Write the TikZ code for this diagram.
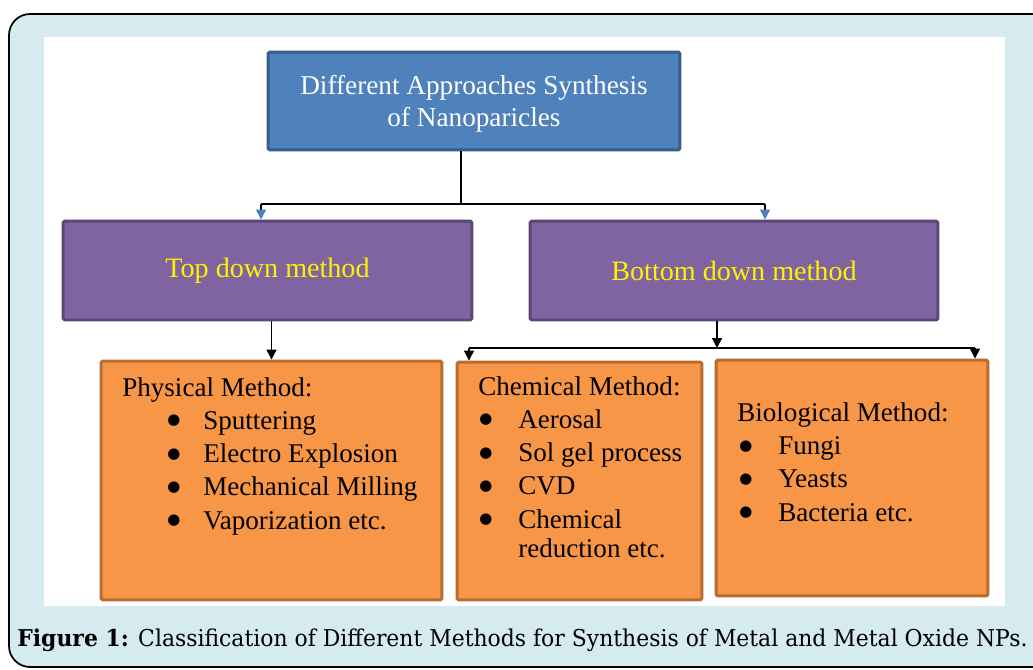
\documentclass[tikz,border=0pt]{standalone}
\usepackage{fontspec}
\setmainfont{Liberation Serif}
\newfontfamily\capfont[FakeStretch=0.945]{DejaVu Serif}
\newfontfamily\dotfont{DejaVu Sans}
\usetikzlibrary{arrows.meta, positioning}

\definecolor{panelblue}{HTML}{D6EBF0}
\definecolor{headfill}{HTML}{4F81BD}
\definecolor{headline}{HTML}{385D8A}
\definecolor{methfill}{HTML}{8064A2}
\definecolor{methline}{HTML}{5C4776}
\definecolor{kindfill}{HTML}{F79646}
\definecolor{kindline}{HTML}{B66D31}

% bullet line: bullet offset, text offset, text
\newcommand{\bline}[3]{\makebox[#2][l]{\hspace*{#1}\raisebox{2.6pt}{\dotfont\fontsize{8.5}{8.5}\selectfont ●}}#3}

\begin{document}
\begin{tikzpicture}[x=0.02cm, y=-0.02cm,
    headbox/.style={draw=headline, line width=1.7pt, fill=headfill, rounded corners=1pt,
        text=white, align=center, text depth=0pt, font=\fontsize{15.5}{18.2}\selectfont},
    methbox/.style={draw=methline, line width=1.7pt, fill=methfill, rounded corners=1pt,
        text=yellow, font=\fontsize{16}{19}\selectfont},
    kindbox/.style={draw=kindline, line width=1.7pt, fill=kindfill, rounded corners=1pt},
    kindlist/.style={anchor=base west, align=left, inner sep=0pt, font=\fontsize{15.4}{18.9}\selectfont},
    blueline/.style={draw=black, line width=0.8pt, -{Triangle[width=0.2cm, length=0.2cm, color=headfill]}},
    blackline/.style={draw=black, line width=0.8pt, -{Triangle[width=0.2cm, length=0.2cm]}}]

    % frame and white panel
    \useasboundingbox (0,0) rectangle (1033,669);
    \clip (0,0) rectangle (1033,669);
    \draw[fill=panelblue, line width=1pt, rounded corners=12] (9,14) rectangle (1060,667);
    \fill[white] (44,37) rectangle (1005,606);

    % head box
    \node[headbox, minimum width=8.24cm, minimum height=1.96cm] (approach) at (474,101)
        {Different Approaches Synthesis\\of Nanoparicles};

    % method boxes
    \node[methbox, minimum width=8.18cm, minimum height=1.98cm] (topdown) at (267.5,270.5) {Top down method};
    \node[methbox, minimum width=8.16cm, minimum height=1.98cm] (bottomdown) at (734,270.5) {Bottom down method};

    % kind boxes
    \node[kindbox, minimum width=6.82cm, minimum height=4.78cm] (physical) at (271.5,480.5) {};
    \node[kindbox, minimum width=4.90cm, minimum height=4.76cm] (chemical) at (579.5,481) {};
    \node[kindbox, minimum width=5.44cm, minimum height=4.72cm] (biological) at (852,478) {};

    % lists (placed by the baseline of their last line)
    \node[kindlist] (physlist) at (122,529) {Physical Method:\\
        \bline{0.9cm}{1.62cm}{Sputtering}\\
        \bline{0.9cm}{1.62cm}{Electro Explosion}\\
        \bline{0.9cm}{1.62cm}{Mechanical Milling}\\
        \bline{0.9cm}{1.62cm}{Vaporization etc.}};
    \node[kindlist] (chemlist) at (478,557) {Chemical Method:\\
        \bline{0.02cm}{0.8cm}{Aerosal}\\
        \bline{0.02cm}{0.8cm}{Sol gel process}\\
        \bline{0.02cm}{0.8cm}{CVD}\\
        \bline{0.02cm}{0.8cm}{Chemical}\\[-2.4pt]
        \hspace*{0.8cm}reduction etc.};
    \node[kindlist] (biolist) at (737,521) {Biological Method:\\
        \bline{0.04cm}{0.82cm}{Fungi}\\
        \bline{0.04cm}{0.82cm}{Yeasts}\\
        \bline{0.04cm}{0.82cm}{Bacteria etc.}};

    % Arrows
    \coordinate (split1) at (461,204);
    \coordinate (leftend) at (261,204);
    \coordinate (rightend) at (765,204);
    \draw[line width=0.8pt] (approach.south -| split1) -- (split1);
    \draw[line width=0.8pt] (leftend) -- (rightend);
    \draw[blueline] (leftend) -- (leftend |- topdown.north);
    \draw[blueline] (rightend) -- (rightend |- bottomdown.north);

    \draw[blackline] (topdown.south -| physical.north) -- (physical.north);

    \coordinate (split2) at (717,348);
    \coordinate (chemend) at (469,348);
    \coordinate (bioend) at (975,348);
    \draw[blackline] (bottomdown.south -| split2) -- (split2);
    \draw[line width=0.8pt] (chemend) -- (bioend);
    \draw[blackline] (chemend) -- (chemend |- chemical.north);
    \draw[blackline] (bioend) -- (bioend |- biological.north);

    % caption
    \node[anchor=base west, inner sep=0pt, font=\capfont\fontsize{13.2}{16}\selectfont] (caption) at (17,646)
        {\textbf{Figure 1:} Classification of Different Methods for Synthesis of Metal and Metal Oxide NPs.};
\end{tikzpicture}
\end{document}
